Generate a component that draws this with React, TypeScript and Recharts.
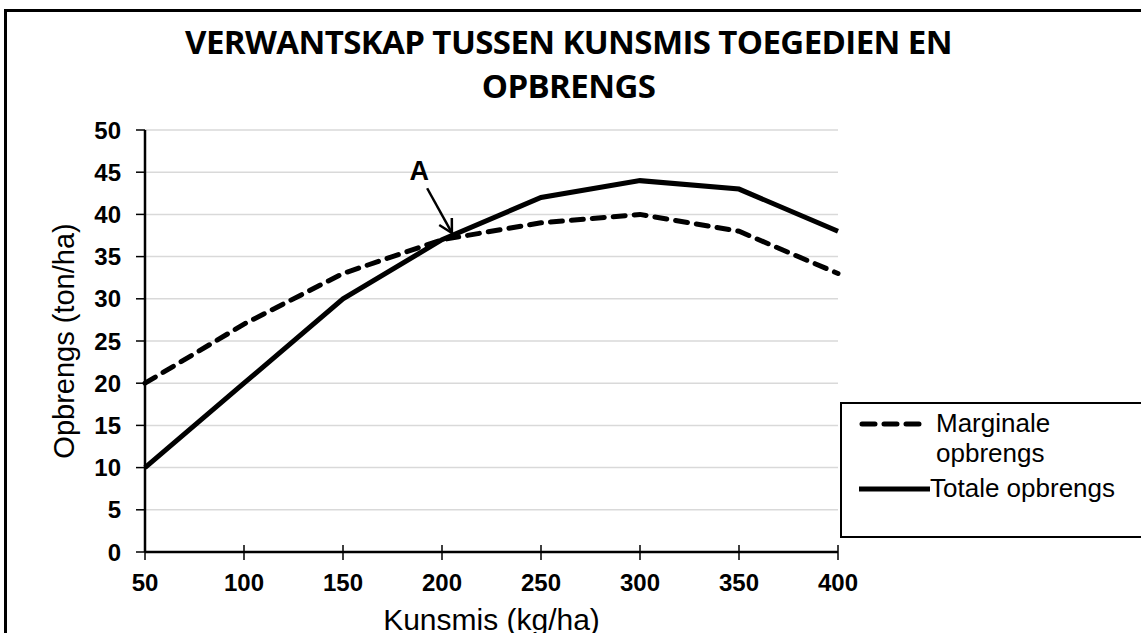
import React from 'react';
import { LineChart, Line, XAxis, YAxis, CartesianGrid, ReferenceLine, ReferenceDot } from 'recharts';

const kunsmis = [50, 100, 150, 200, 250, 300, 350, 400];
const marginale = [20, 27, 33, 37, 39, 40, 38, 33];
const totale = [10, 20, 30, 37, 42, 44, 43, 38];
const yTicks = [0, 5, 10, 15, 20, 25, 30, 35, 40, 45, 50];

const data = kunsmis.map((k, i) => ({ kunsmis: k, marginale: marginale[i], totale: totale[i] }));

const ARIAL = '"Liberation Sans", Arial, sans-serif';

const ArrowShape = (props: any) => {
  const { x1, y1, x2, y2 } = props;
  if ([x1, y1, x2, y2].some((v) => typeof v !== 'number')) return null;
  const ang = Math.atan2(y2 - y1, x2 - x1);
  const len = 15;
  const spread = 0.5;
  const ax = x2 - len * Math.cos(ang - spread);
  const ay = y2 - len * Math.sin(ang - spread);
  const bx = x2 - len * Math.cos(ang + spread);
  const by = y2 - len * Math.sin(ang + spread);
  return (
    <g>
      <line x1={x1} y1={y1} x2={x2} y2={y2} stroke="#000" strokeWidth={2.5} />
      <polyline points={`${ax},${ay} ${x2},${y2} ${bx},${by}`} fill="none" stroke="#000" strokeWidth={2.5} />
    </g>
  );
};

// x tick: mark crosses the axis line, label below
const XTick = (props: any) => {
  const { x, y, payload } = props;
  return (
    <g>
      <line x1={x} y1={y - 17} x2={x} y2={y - 2} stroke="#000" strokeWidth={1.5} />
      <text
        x={x}
        y={y + 29}
        textAnchor="middle"
        fill="#000"
        fontSize={24}
        fontWeight={700}
        fontFamily={ARIAL}
      >
        {payload.value}
      </text>
    </g>
  );
};

export default function App() {
  return (
    <div
      style={{
        position: 'absolute',
        left: 0,
        top: 0,
        width: 1141,
        height: 633,
        overflow: 'hidden',
        background: '#fff',
      }}
    >
      <div
        style={{
          position: 'absolute',
          left: 4,
          top: 9,
          width: 1200,
          height: 700,
          border: '3px solid #000',
        }}
      />
      <div
        style={{
          position: 'absolute',
          left: 0,
          top: 20,
          width: 1141,
          textAlign: 'center',
          fontFamily: '"Open Sans", sans-serif',
          fontWeight: 700,
          fontSize: 33,
          lineHeight: '44px',
          letterSpacing: -0.6,
        }}
      >
        <div style={{ marginLeft: -4 }}>VERWANTSKAP TUSSEN KUNSMIS TOEGEDIEN EN</div>
        <div style={{ marginLeft: -4 }}>OPBRENGS</div>
      </div>

      <div style={{ position: 'absolute', left: 0, top: 0 }}>
        <LineChart
          width={1141}
          height={633}
          data={data}
          margin={{ top: 130, right: 303, bottom: 0, left: 0 }}
        >
          <CartesianGrid horizontal vertical={false} stroke="#d9d9d9" strokeWidth={1.5} />
          <XAxis
            dataKey="kunsmis"
            type="number"
            domain={[50, 400]}
            ticks={kunsmis}
            height={81}
            axisLine={{ stroke: '#000', strokeWidth: 2.5 }}
            tickLine={false}
            tickSize={8}
            tick={<XTick />}
            label={{
              value: 'Kunsmis (kg/ha)',
              position: 'insideBottom',
              offset: 0,
              dx: 0,
              dy: -3,
              style: { fill: '#000', fontSize: 30, fontFamily: ARIAL },
            }}
          />
          <YAxis
            type="number"
            domain={[0, 50]}
            ticks={yTicks}
            interval={0}
            width={145}
            axisLine={{ stroke: '#000', strokeWidth: 2.5 }}
            tickLine={{ stroke: '#000', strokeWidth: 1.5 }}
            tickSize={9}
            tick={{ fill: '#000', fontSize: 24, fontWeight: 700, fontFamily: ARIAL, dx: -13 }}
            label={{
              value: 'Opbrengs (ton/ha)',
              angle: -90,
              position: 'insideLeft',
              offset: 0,
              dx: 64,
              style: { fill: '#000', fontSize: 29, fontFamily: ARIAL, textAnchor: 'middle' },
            }}
          />
          <Line
            dataKey="totale"
            stroke="#000"
            strokeWidth={5}
            dot={false}
            isAnimationActive={false}
          />
          <Line
            dataKey="marginale"
            stroke="#000"
            strokeWidth={5}
            strokeDasharray="12 9"
            strokeLinecap="round"
            dot={false}
            isAnimationActive={false}
          />
          <ReferenceLine
            segment={[
              { x: 192.5, y: 43.1 },
              { x: 205, y: 37.8 },
            ]}
            shape={ArrowShape}
            ifOverflow="visible"
          />
          <ReferenceDot
            x={188.5}
            y={45.2}
            r={0}
            fill="none"
            stroke="none"
            ifOverflow="visible"
            label={{
              value: 'A',
              position: 'center',
              style: { fill: '#000', fontSize: 27, fontWeight: 700, fontFamily: ARIAL },
            }}
          />
        </LineChart>
      </div>

      <div
        style={{
          position: 'absolute',
          left: 840,
          top: 402,
          width: 400,
          height: 132,
          border: '2px solid #000',
          background: '#fff',
          fontFamily: ARIAL,
          fontSize: 26,
          color: '#000',
        }}
      >
        <svg style={{ position: 'absolute', left: 0, top: 0 }} width={100} height={120}>
          <line
            x1={20}
            y1={20}
            x2={78}
            y2={20}
            stroke="#000"
            strokeWidth={5}
            strokeDasharray="13 9"
            strokeLinecap="round"
          />
          <line x1={17} y1={85} x2={88} y2={85} stroke="#000" strokeWidth={5} />
        </svg>
        <div style={{ position: 'absolute', left: 94, top: 4, lineHeight: '30px' }}>
          Marginale
          <br />
          opbrengs
        </div>
        <div style={{ position: 'absolute', left: 88, top: 69, lineHeight: '30px' }}>Totale opbrengs</div>
      </div>
    </div>
  );
}
